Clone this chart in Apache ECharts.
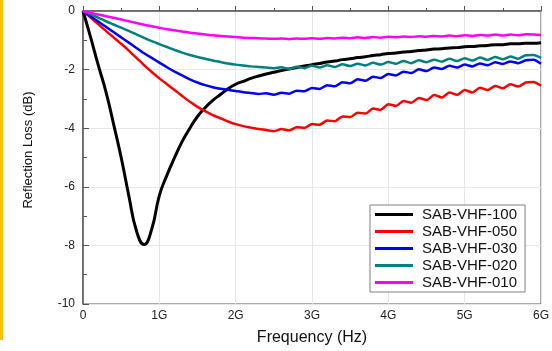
<!DOCTYPE html>
<html>
<head>
<meta charset="utf-8">
<style>
  html, body { margin: 0; padding: 0; background: #fff; }
  #chart { width: 552px; height: 351px; }
</style>
<script src="https://cdn.jsdelivr.net/npm/echarts@6.0.0/dist/echarts.min.js"></script>
</head>
<body>
<div id="chart"></div>
<script>
// frequency samples (GHz)
const freq = [
  0.0, 0.1, 0.2, 0.3, 0.4, 0.5, 0.6, 0.7, 0.8, 0.9,
  1.0, 1.1, 1.2, 1.3, 1.4, 1.5, 1.6, 1.7, 1.8, 1.9,
  2.0, 2.1, 2.2, 2.3, 2.4, 2.5, 2.6, 2.7, 2.8, 2.9,
  3.0, 3.1, 3.2, 3.3, 3.4, 3.5, 3.6, 3.7, 3.8, 3.9,
  4.0, 4.1, 4.2, 4.3, 4.4, 4.5, 4.6, 4.7, 4.8, 4.9,
  5.0, 5.1, 5.2, 5.3, 5.4, 5.5, 5.6, 5.7, 5.8, 5.9,
  6.0
]

const seriesNames = ['SAB-VHF-100', 'SAB-VHF-050', 'SAB-VHF-030', 'SAB-VHF-020', 'SAB-VHF-010']
const seriesColors = ['#000000', '#ff0000', '#0000ff', '#008080', '#ff00ff']

const vhf100 = [
  0, -0.9, -1.85, -2.75, -3.85, -5.0, -6.3, -7.5, -7.97, -7.45,
  -6.3, -5.6, -5.0, -4.45, -4.0, -3.6, -3.3, -3.05, -2.85, -2.65,
  -2.5, -2.4, -2.3, -2.22, -2.15, -2.09, -2.03, -1.98, -1.93, -1.88,
  -1.83, -1.79, -1.74, -1.71, -1.66, -1.63, -1.59, -1.56, -1.52, -1.49,
  -1.45, -1.43, -1.4, -1.38, -1.35, -1.33, -1.3, -1.29, -1.26, -1.25,
  -1.22, -1.21, -1.19, -1.18, -1.15, -1.15, -1.12, -1.12, -1.1, -1.1,
  -1.08
]
const vhf050 = [
  0, -0.22, -0.45, -0.68, -0.9, -1.12, -1.35, -1.6, -1.85, -2.08,
  -2.3, -2.5, -2.7, -2.9, -3.1, -3.27, -3.42, -3.55, -3.66, -3.77,
  -3.86, -3.93, -3.98, -4.03, -4.06, -4.1, -4.03, -4.08, -3.97, -3.99,
  -3.86, -3.88, -3.74, -3.76, -3.6, -3.62, -3.47, -3.5, -3.33, -3.37,
  -3.18, -3.24, -3.07, -3.13, -2.97, -3.04, -2.87, -2.95, -2.78, -2.86,
  -2.7, -2.78, -2.62, -2.7, -2.56, -2.64, -2.5, -2.58, -2.44, -2.42,
  -2.55
]
const vhf030 = [
  0, -0.18, -0.36, -0.54, -0.72, -0.9, -1.08, -1.26, -1.44, -1.6,
  -1.76, -1.92, -2.07, -2.2, -2.33, -2.44, -2.53, -2.6, -2.65, -2.69,
  -2.73, -2.77, -2.8, -2.83, -2.81, -2.86, -2.79, -2.82, -2.72, -2.74,
  -2.63, -2.66, -2.53, -2.57, -2.43, -2.47, -2.33, -2.38, -2.24, -2.29,
  -2.15, -2.2, -2.07, -2.12, -1.99, -2.05, -1.93, -1.98, -1.87, -1.93,
  -1.83, -1.89, -1.79, -1.85, -1.75, -1.81, -1.72, -1.78, -1.68, -1.66,
  -1.8
]
const vhf020 = [
  0, -0.11, -0.23, -0.35, -0.46, -0.57, -0.68, -0.8, -0.92, -1.03,
  -1.13, -1.23, -1.33, -1.42, -1.5, -1.57, -1.63, -1.69, -1.74, -1.79,
  -1.83, -1.86, -1.89, -1.91, -1.93, -1.95, -1.92, -1.98, -1.9, -1.95,
  -1.87, -1.93, -1.85, -1.91, -1.82, -1.88, -1.8, -1.86, -1.77, -1.83,
  -1.74, -1.8, -1.71, -1.78, -1.68, -1.75, -1.66, -1.73, -1.63, -1.71,
  -1.61, -1.69, -1.59, -1.67, -1.57, -1.65, -1.55, -1.63, -1.51, -1.5,
  -1.6
]
const vhf010 = [
  0, -0.06, -0.12, -0.18, -0.23, -0.29, -0.35, -0.41, -0.47, -0.52,
  -0.57, -0.62, -0.66, -0.7, -0.74, -0.77, -0.8, -0.83, -0.85, -0.87,
  -0.89, -0.91, -0.92, -0.93, -0.94, -0.95, -0.94, -0.96, -0.94, -0.95,
  -0.93, -0.95, -0.92, -0.94, -0.91, -0.93, -0.9, -0.92, -0.89, -0.91,
  -0.88, -0.9, -0.87, -0.89, -0.86, -0.88, -0.85, -0.87, -0.84, -0.86,
  -0.83, -0.85, -0.82, -0.84, -0.8, -0.84, -0.8, -0.83, -0.79, -0.8,
  -0.82
]
const seriesValues = [vhf100, vhf050, vhf030, vhf020, vhf010]

const xTickLabels = ['0', '1G', '2G', '3G', '4G', '5G', '6G']

const FONT = 'Liberation Sans, Arial, sans-serif'
const AXIS_COLOR = '#555555'

const chart = echarts.init(document.getElementById('chart'))

const option = {
  backgroundColor: '#ffffff',
  animation: false,
  graphic: [
    {
      type: 'rect',
      left: 0,
      top: 0,
      shape: { x: 0, y: 0, width: 3, height: 340 },
      style: { fill: '#f7c300' }
    },
    {
      // y axis title
      type: 'text',
      x: 28,
      y: 150,
      rotation: Math.PI / 2,
      style: {
        text: 'Reflection Loss (dB)',
        font: '13px ' + FONT,
        fill: '#111111',
        align: 'center',
        verticalAlign: 'middle'
      }
    }
  ],
  grid: {
    left: 83,
    right: 8,
    top: 11,
    bottom: 45,
    show: true,
    borderColor: AXIS_COLOR,
    borderWidth: 1,
    backgroundColor: 'transparent'
  },
  legend: {
    data: seriesNames,
    orient: 'vertical',
    left: 370,
    top: 205,
    icon: 'rect',
    itemWidth: 38,
    itemHeight: 3,
    itemGap: 2,
    padding: [2, 8, 2, 5],
    borderColor: '#808080',
    borderWidth: 1,
    backgroundColor: '#ffffff',
    textStyle: {
      fontFamily: FONT,
      fontSize: 15,
      lineHeight: 15,
      color: '#111111',
      padding: [0, 0, 0, 4]
    }
  },
  xAxis: {
    type: 'value',
    min: 0,
    max: 6,
    interval: 1,
    name: 'Frequency (Hz)',
    nameLocation: 'middle',
    nameGap: 26,
    nameTextStyle: { fontFamily: FONT, fontSize: 16, color: '#111111' },
    axisLine: { show: true, lineStyle: { color: AXIS_COLOR, width: 1.5 } },
    axisTick: { show: true, inside: true, length: 5, lineStyle: { color: AXIS_COLOR } },
    minorTick: { show: true, splitNumber: 2, length: 3, lineStyle: { color: AXIS_COLOR } },
    splitLine: { show: true, lineStyle: { color: '#e6e6e6', width: 1 } },
    axisLabel: {
      fontFamily: FONT,
      fontSize: 12,
      color: '#222222',
      margin: 6,
      formatter: (v) => xTickLabels[Math.round(v)]
    }
  },
  yAxis: {
    type: 'value',
    min: -10,
    max: 0,
    interval: 2,
    axisLine: { show: true, lineStyle: { color: AXIS_COLOR, width: 1.5 } },
    axisTick: { show: true, inside: true, length: 6, lineStyle: { color: AXIS_COLOR } },
    minorTick: { show: true, splitNumber: 2, length: 4, lineStyle: { color: AXIS_COLOR } },
    splitLine: { show: true, lineStyle: { color: '#e6e6e6', width: 1 } },
    axisLabel: {
      fontFamily: FONT,
      fontSize: 12,
      color: '#222222',
      margin: 8
    }
  },
  series: seriesNames.map((name, i) => ({
    name: name,
    type: 'line',
    showSymbol: false,
    smooth: i === 0 ? 0.5 : 0.25,
    color: seriesColors[i],
    lineStyle: { width: i === 0 ? 3 : 2.5, color: seriesColors[i] },
    data: freq.map((f, j) => [f, seriesValues[i][j]])
  }))
}

chart.setOption(option)
</script>
</body>
</html>
